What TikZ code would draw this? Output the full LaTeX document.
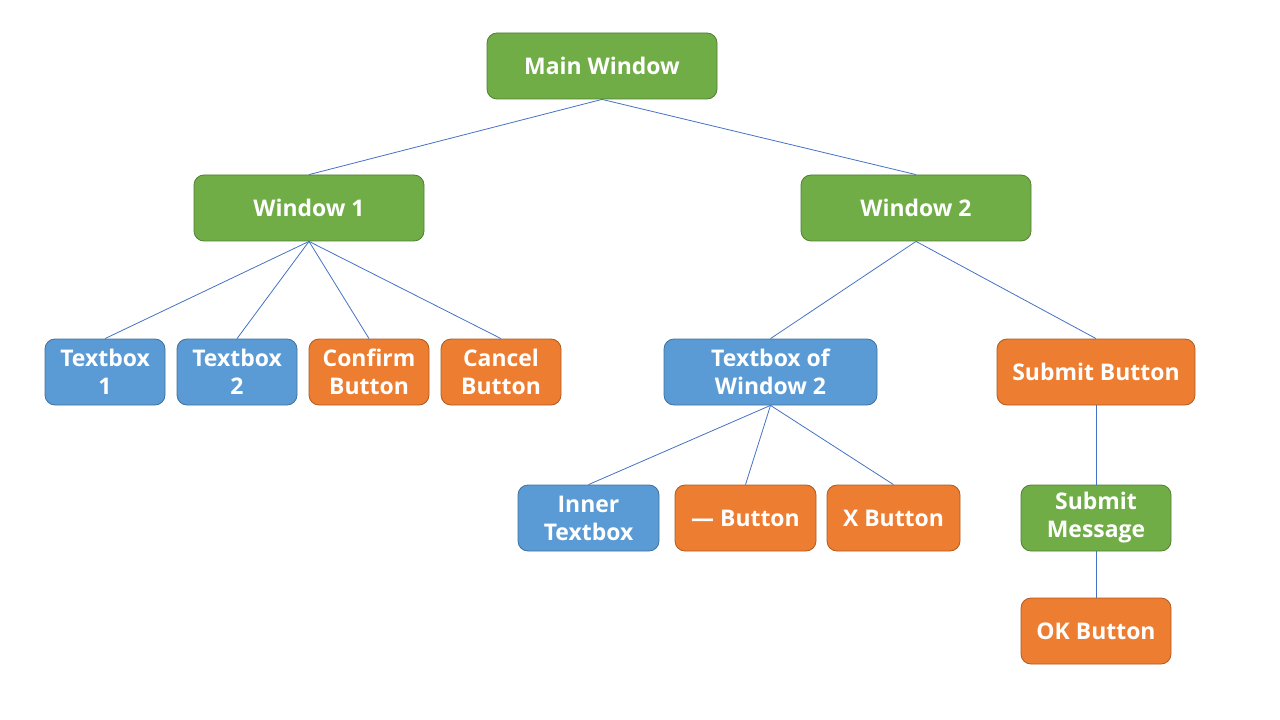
\documentclass[tikz,border=0pt]{standalone}
\usepackage{fontspec}
\setmainfont{Open Sans}
\usepackage{tikz}
\definecolor{grn}{HTML}{70AD47}
\definecolor{grnline}{HTML}{507E32}
\definecolor{blu}{HTML}{5B9BD5}
\definecolor{bluline}{HTML}{41719C}
\definecolor{org}{HTML}{ED7D31}
\definecolor{orgline}{HTML}{AE5A21}
\definecolor{link}{HTML}{4472C4}
\tikzset{
  box/.style={rounded corners=7.5pt,minimum height=49.5pt,align=center,inner sep=0pt,
    text=white,font=\bfseries\fontsize{17.2}{21}\selectfont,line width=0.6pt},
  win/.style={box,fill=grn,draw=grnline},
  tbox/.style={box,fill=blu,draw=bluline},
  btn/.style={box,fill=org,draw=orgline},
  edge/.style={draw=link,line width=0.6pt}
}

\begin{document}
\begin{tikzpicture}[x=0.75pt,y=-0.75pt]
\useasboundingbox (0,0) rectangle (1280,720);
% top level
\node[win,minimum width=172.5pt] (main) at (602,66) {Main Window};
\node[win,minimum width=172.5pt] (w1) at (309,208) {Window 1};
\node[win,minimum width=172.5pt] (w2) at (916,208) {Window 2};
% children of window 1
\node[tbox,minimum width=90pt] (tb1) at (105,372) {Textbox\\1};
\node[tbox,minimum width=90pt] (tb2) at (237,372) {Textbox\\2};
\node[btn,minimum width=90pt] (conf) at (369,372) {Confirm\\Button};
\node[btn,minimum width=90pt] (canc) at (501,372) {Cancel\\Button};
% children of window 2
\node[tbox,minimum width=159.75pt] (tbw2) at (770.5,372) {Textbox of\\Window 2};
\node[btn,minimum width=148.5pt] (subm) at (1096,372) {Submit Button};
\node[tbox,minimum width=105.75pt] (inner) at (588.5,518) {Inner\\Textbox};
\node[btn,minimum width=105.75pt] (dash) at (745.5,518) {— Button};
\node[btn,minimum width=99.75pt] (xbtn) at (893.5,518) {X Button};
\node[win,minimum width=112.5pt] (msg) at (1096,518) {Submit\\Message};
\node[btn,minimum width=112.5pt] (ok) at (1096,631) {OK Button};
% links
\draw[edge] (main.south)--(w1.north) (main.south)--(w2.north);
\foreach \c in {tb1,tb2,conf,canc} \draw[edge] (w1.south)--(\c.north);
\foreach \c in {tbw2,subm} \draw[edge] (w2.south)--(\c.north);
\foreach \c in {inner,dash,xbtn} \draw[edge] (tbw2.south)--(\c.north);
\draw[edge] (subm)--(msg) (msg)--(ok);
\end{tikzpicture}
\end{document}
